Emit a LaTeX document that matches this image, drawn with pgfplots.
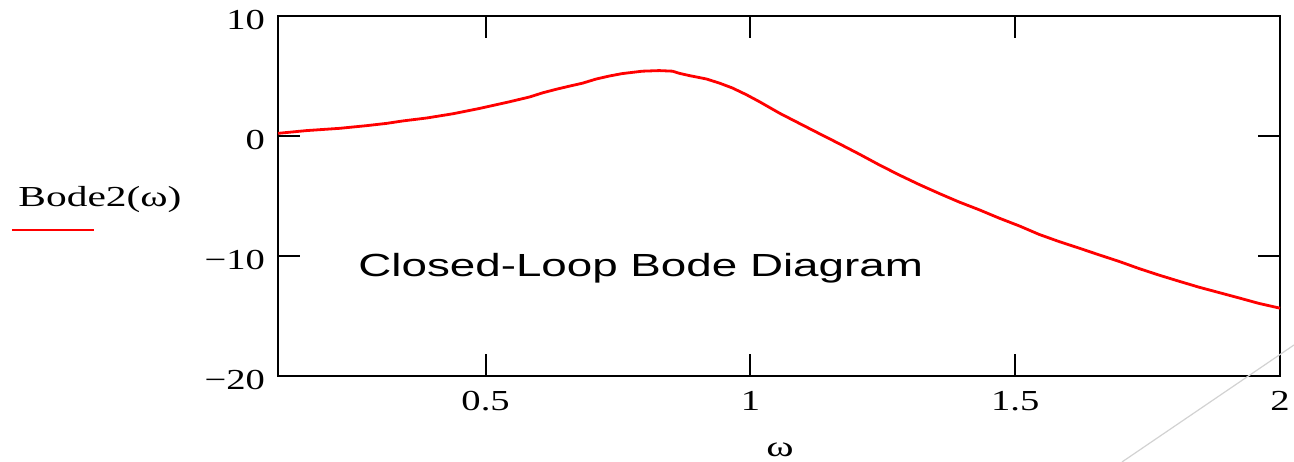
\documentclass[border=0pt]{standalone}
\usepackage{fontspec}
\setmainfont{Liberation Serif}[FakeStretch=1.43]
\newfontfamily\tickfont{Liberation Serif}[FakeStretch=1.33]
\newfontfamily\titlefont{Liberation Sans}[FakeStretch=1.43]
\usepackage{pgfplots}
\usepackage{pgfplotstable}
\pgfplotsset{compat=1.18}

% closed-loop magnitude in dB versus frequency
\pgfplotstableread{
w      db
0.108  0.22
0.162  0.45
0.225  0.64
0.275  0.86
0.313  1.05
0.343  1.25
0.389  1.50
0.438  1.85
0.489  2.30
0.545  2.85
0.583  3.25
0.608  3.60
0.634  3.90
0.658  4.15
0.683  4.40
0.709  4.75
0.734  5.00
0.758  5.20
0.796  5.40
0.828  5.45
0.853  5.40
0.866  5.22
0.885  5.03
0.917  4.75
0.942  4.40
0.966  4.00
0.992  3.45
1.017  2.86
1.055  1.90
1.092  1.06
1.130  0.20
1.168 -0.65
1.206 -1.52
1.243 -2.40
1.281 -3.25
1.319 -4.05
1.357 -4.80
1.394 -5.50
1.432 -6.15
1.470 -6.85
1.508 -7.50
1.545 -8.20
1.583 -8.80
1.621 -9.35
1.658 -9.90
1.696 -10.45
1.734 -11.05
1.772 -11.60
1.809 -12.10
1.847 -12.60
1.885 -13.05
1.923 -13.50
1.960 -13.95
2.000 -14.35
}\bodetable

\begin{document}
\begin{tikzpicture}
\begin{axis}[
  scale only axis,
  width=501pt, height=180pt,
  xmin=0.108, xmax=2, ymin=-20, ymax=10,
  xtick={0.5,1,1.5,2}, xticklabels={0.5,1,1.5,2},
  ytick={-20,-10,0,10}, yticklabels={−20,−10,0,10},
  tick align=inside,
  major tick length=11pt,
  axis line style={line width=1.3pt},
  tick style={line width=1pt, black},
  ticklabel style={font=\tickfont\fontsize{14.5}{17}\selectfont},
  xticklabel style={yshift=-4pt},
  yticklabel style={xshift=-3pt, yshift=-2pt},
  clip=false,
]
\addplot[red, line width=1.4pt] table[x=w, y=db] {\bodetable};

% title inside the plot area
\node[anchor=west, inner sep=0pt, font=\titlefont\fontsize{16}{19}\selectfont]
  at (rel axis cs:0.0798,0.30) {Closed-Loop Bode Diagram};

% trace label with its line sample
\node[anchor=west, inner sep=0pt, font=\fontsize{14.5}{17}\selectfont]
  at (rel axis cs:-0.2595,0.4889) {Bode2(ω)};
\draw[red, line width=1.2pt] (rel axis cs:-0.2655,0.4056) -- (rel axis cs:-0.1836,0.4056);

% x-axis label
\node[font=\fontsize{14.5}{17}\selectfont] at (rel axis cs:0.501,-0.2056) {ω};

% thin grey stroke at the lower right
\draw[gray!35, line width=0.6pt] (rel axis cs:0.8423,-0.2389) -- (rel axis cs:1.01397,0.0861);

\coordinate (bbsw) at (rel axis cs:-0.27745,-0.23889);
\coordinate (bbne) at (rel axis cs:1.01397,1.04444);
\end{axis}
\pgfresetboundingbox
\path[use as bounding box] (bbsw) rectangle (bbne);
\end{tikzpicture}
\end{document}
